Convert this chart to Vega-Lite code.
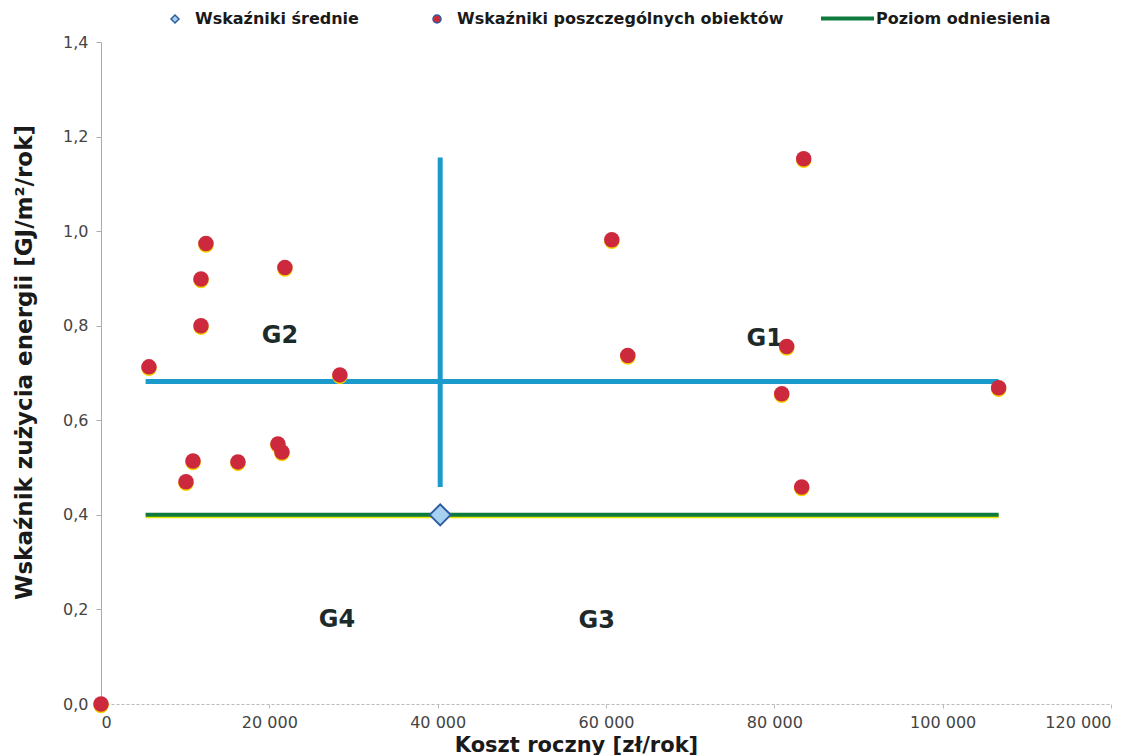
{
  "$schema": "https://vega.github.io/schema/vega-lite/v6.json",
  "autosize": "none",
  "width": 1010,
  "height": 662,
  "padding": {"left": 101, "top": 42, "right": 35, "bottom": 51},
  "background": "white",
  "config": {
    "view": {"stroke": null},
    "locale": {"number": {"decimal": ",", "thousands": " ", "grouping": [3], "currency": ["", ""]}},
    "axis": {"grid": false, "labelFont": "DejaVu Sans", "labelFontSize": 16, "labelColor": "#444", "titleFont": "DejaVu Sans", "titleFontWeight": "bold", "titleFontSize": 21, "titleColor": "#1a1a1a"},
    "legend": {"labelFont": "DejaVu Sans", "labelFontWeight": "bold", "labelFontSize": 16, "labelColor": "#1a1a1a", "padding": 0, "labelLimit": 0, "symbolOpacity": 1}
  },
  "datasets": {
    "points": [
      {"x": 0, "y": 0},
      {"x": 5700, "y": 0.713},
      {"x": 12470, "y": 0.974},
      {"x": 11880, "y": 0.899},
      {"x": 11880, "y": 0.8},
      {"x": 21850, "y": 0.923},
      {"x": 28380, "y": 0.696},
      {"x": 10930, "y": 0.514},
      {"x": 10100, "y": 0.47},
      {"x": 16270, "y": 0.512},
      {"x": 21020, "y": 0.55},
      {"x": 21500, "y": 0.533},
      {"x": 83490, "y": 1.153},
      {"x": 60690, "y": 0.982},
      {"x": 62590, "y": 0.737},
      {"x": 81470, "y": 0.756},
      {"x": 80880, "y": 0.656},
      {"x": 106650, "y": 0.669},
      {"x": 83250, "y": 0.459}
    ],
    "mean": [{"x": 40300, "y": 0.4}],
    "ref": [{"x": 5300, "x2": 106650, "y": 0.4}],
    "quad": [
      {"x": 5300, "x2": 106650, "y": 0.682, "y2": 0.682},
      {"x": 40300, "x2": 40300, "y": 0.459, "y2": 1.156}
    ],
    "labels": [
      {"x": 21260, "y": 0.779, "label": "G2"},
      {"x": 78860, "y": 0.772, "label": "G1"},
      {"x": 28030, "y": 0.178, "label": "G4"},
      {"x": 58900, "y": 0.176, "label": "G3"}
    ]
  },
  "layer": [
    {
      "data": {"name": "quad"},
      "mark": {"type": "rule", "color": "#1b9bcc", "strokeWidth": 5},
      "encoding": {
        "x": {"field": "x", "type": "quantitative", "scale": {"domain": [0, 120000], "nice": false},
          "axis": {"values": [0, 20000, 40000, 60000, 80000, 100000, 120000], "format": ",d", "title": "Koszt roczny [zł/rok]", "titleX": 475, "titlePadding": 4, "labelPadding": 6, "tickSize": 4, "tickColor": "#bbb", "domainColor": "#bbb", "domainDash": [3, 2]}},
        "x2": {"field": "x2"},
        "y": {"field": "y", "type": "quantitative", "scale": {"domain": [0, 1.4], "nice": false},
          "axis": {"values": [0, 0.2, 0.4, 0.6, 0.8, 1.0, 1.2, 1.4], "format": ".1f", "title": "Wskaźnik zużycia energii [GJ/m²/rok]", "titleFontSize": 23, "titleY": 320, "titlePadding": 26, "labelPadding": 8, "tickSize": 5, "tickColor": "#aaa", "domainColor": "#aaa"}},
        "y2": {"field": "y2"}
      }
    },
    {
      "data": {"name": "ref"},
      "mark": {"type": "rule", "color": "#e6e600", "strokeWidth": 4, "yOffset": 1.5},
      "encoding": {
        "x": {"field": "x", "type": "quantitative"},
        "x2": {"field": "x2"},
        "y": {"field": "y", "type": "quantitative"}
      }
    },
    {
      "data": {"name": "ref"},
      "transform": [{"calculate": "'Poziom odniesienia'", "as": "series"}],
      "mark": {"type": "rule", "strokeWidth": 4},
      "encoding": {
        "x": {"field": "x", "type": "quantitative"},
        "x2": {"field": "x2"},
        "y": {"field": "y", "type": "quantitative"},
        "stroke": {"field": "series", "type": "nominal", "scale": {"domain": ["Poziom odniesienia"], "range": ["#0e7a3e"]},
          "legend": {"title": null, "orient": "none", "legendX": 718, "legendY": -52, "symbolType": "stroke", "symbolSize": 2809, "symbolStrokeWidth": 4, "labelOffset": 0}}
      }
    },
    {
      "data": {"name": "labels"},
      "mark": {"type": "text", "font": "DejaVu Sans", "fontWeight": "bold", "fontSize": 24, "color": "#1c2a2a", "align": "center", "baseline": "middle"},
      "encoding": {
        "x": {"field": "x", "type": "quantitative"},
        "y": {"field": "y", "type": "quantitative"},
        "text": {"field": "label"}
      }
    },
    {
      "data": {"name": "mean"},
      "transform": [{"calculate": "'Wskaźniki średnie'", "as": "series"}],
      "mark": {"type": "point", "filled": true, "size": 441, "stroke": "#2c5d9e", "strokeWidth": 2, "opacity": 1},
      "encoding": {
        "x": {"field": "x", "type": "quantitative"},
        "y": {"field": "y", "type": "quantitative"},
        "fill": {"field": "series", "type": "nominal", "scale": {"domain": ["Wskaźniki średnie", "Wskaźniki poszczególnych obiektów"], "range": ["#a8d0f0", "#cc2a3c"]},
          "legend": {"title": null, "orient": "none", "legendX": 66, "legendY": -31, "direction": "horizontal", "columns": 2, "columnPadding": 70, "symbolSize": 64, "labelOffset": 12,
            "encode": {"symbols": {"update": {"stroke": {"signal": "datum.value === 'Wskaźniki średnie' ? '#2c5d9e' : 'transparent'"}, "strokeWidth": {"value": 1.5}}}}}},
        "shape": {"field": "series", "type": "nominal", "scale": {"domain": ["Wskaźniki średnie", "Wskaźniki poszczególnych obiektów"], "range": ["diamond", "circle"]},
          "legend": {"title": null, "orient": "none", "legendX": 66, "legendY": -31, "direction": "horizontal", "columns": 2, "columnPadding": 70, "symbolSize": 64, "labelOffset": 12}}
      }
    },
    {
      "data": {"name": "points"},
      "mark": {"type": "circle", "size": 240, "color": "#f2d400", "opacity": 1, "yOffset": 1.5},
      "encoding": {
        "x": {"field": "x", "type": "quantitative"},
        "y": {"field": "y", "type": "quantitative"}
      }
    },
    {
      "data": {"name": "points"},
      "transform": [{"calculate": "'Wskaźniki poszczególnych obiektów'", "as": "series"}],
      "mark": {"type": "point", "filled": true, "size": 240, "opacity": 1},
      "encoding": {
        "x": {"field": "x", "type": "quantitative"},
        "y": {"field": "y", "type": "quantitative"},
        "fill": {"field": "series", "type": "nominal"},
        "shape": {"field": "series", "type": "nominal"}
      }
    }
  ]
}
